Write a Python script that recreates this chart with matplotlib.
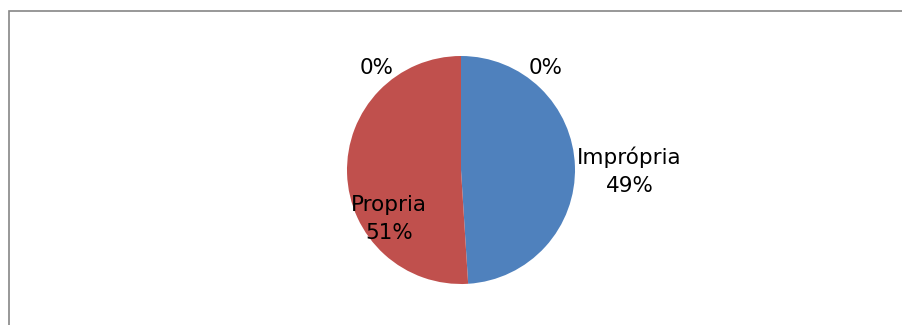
import matplotlib.pyplot as plt
import numpy as np
from matplotlib.patches import Rectangle

categories = ["", "Imprópria", "Propria", ""]
values = [0, 49, 51, 0]
colors = ["#4F81BD", "#4F81BD", "#C0504D", "#C0504D"]


def pct(v):
    return f"{v / sum(values) * 100:.0f}%"


fig = plt.figure(figsize=(9.02, 3.25), dpi=100)
fig.patch.set_facecolor("white")

# chart area border (only top and left edges are visible in the crop)
fig.patches.append(Rectangle((8.5 / 902, -0.2), 1.2, 1.2 - 10.5 / 325,
                             transform=fig.transFigure, fill=False,
                             edgecolor="#868686", linewidth=1.2))

ax = fig.add_axes([347 / 902, 41 / 325, 228 / 902, 228 / 325])
wedges, _ = ax.pie(values, colors=colors, startangle=90, counterclock=False,
                   radius=1.0, wedgeprops=dict(linewidth=0))
ax.set_xlim(-1, 1)
ax.set_ylim(-1, 1)
ax.set_aspect("equal")
ax.axis("off")

fs = 15.5
for i, (w, cat, v) in enumerate(zip(wedges, categories, values)):
    mid = np.deg2rad((w.theta1 + w.theta2) / 2)
    if v == 0:
        # zero slices: label set off to either side of the 12 o'clock boundary
        side = 1 if i == 0 else -1
        ang = np.deg2rad(90 - side * 40)
        ax.text(1.15 * np.cos(ang), 1.18 * np.sin(ang) - 0.01,
                pct(v), ha="center", va="center", fontsize=fs, clip_on=False)
    elif np.cos(mid) > 0:
        ax.text(1.02 * np.cos(mid), 1.02 * np.sin(mid) - 0.04, f"{cat}\n{pct(v)}",
                ha="left", va="center", multialignment="center", fontsize=fs,
                linespacing=1.5, clip_on=False)
    else:
        ang = mid + np.deg2rad(33)
        ax.text(0.77 * np.cos(ang), 0.77 * np.sin(ang) + 0.01, f"{cat}\n{pct(v)}",
                ha="center", va="center", multialignment="center", fontsize=fs,
                linespacing=1.5, clip_on=False)

fig.savefig("out.png", dpi=100, facecolor="white")
